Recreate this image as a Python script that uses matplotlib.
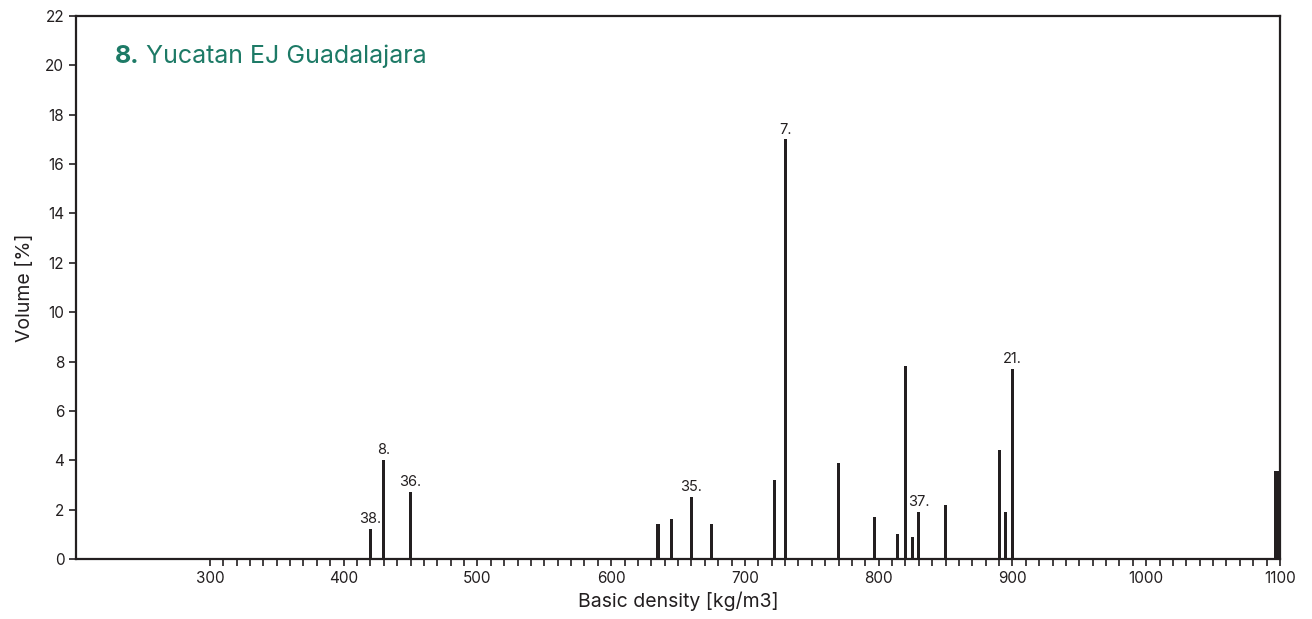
import matplotlib.pyplot as plt
from matplotlib.ticker import MultipleLocator, FixedLocator

plt.rcParams['font.family'] = ['Inter', 'DejaVu Sans']

# basic density class (kg/m3) and volume share (%)
density = [420, 430, 450, 635, 645, 660, 675, 722, 730, 770, 797, 814, 820, 825, 830, 850, 890, 895, 900]
volume = [1.2, 4.0, 2.7, 1.4, 1.6, 2.5, 1.4, 3.2, 17.0, 3.9, 1.7, 1.0, 7.8, 0.9, 1.9, 2.2, 4.4, 1.9, 7.7]
labels = {420: '38.', 430: '8.', 450: '36.', 660: '35.', 730: '7.', 830: '37.', 900: '21.'}

# last bin sits at the right edge
edge_density = 1100
edge_volume = 3.57

ink = '#231f20'
teal = '#1d7a66'

fig = plt.figure(figsize=(13.12, 6.19), dpi=100)
ax = fig.add_axes([0.058, 0.097, 0.9176, 0.877])

ax.bar(density, volume, width=2.3, color=ink)
ax.bar(edge_density, edge_volume, width=-4.5, align='edge', color=ink)

for x, h in zip(density, volume):
    if x in labels:
        ax.text(x, h + 0.12, labels[x], ha='center', va='bottom', fontsize=10.5, color=ink)

ax.set_xlim(200, 1100)
ax.set_ylim(0, 22)
ax.set_xticks(range(300, 1101, 100))
ax.xaxis.set_minor_locator(FixedLocator(list(range(300, 1101, 10))))
ax.yaxis.set_major_locator(MultipleLocator(2))

ax.tick_params(axis='both', which='major', direction='out', length=5, width=1.2,
               colors=ink, labelsize=11)
ax.tick_params(axis='x', which='minor', direction='out', length=5, width=1.2, colors=ink)
for s in ax.spines.values():
    s.set_linewidth(1.6)
    s.set_color(ink)

ax.set_xlabel('Basic density [kg/m3]', fontsize=14, color=ink, labelpad=4)
ax.set_ylabel('Volume [%]', fontsize=14, color=ink, labelpad=8)

t1 = ax.text(0.032, 0.926, '8.', transform=ax.transAxes, fontsize=18,
             fontweight='bold', color=teal, va='center')
ax.annotate(' Yucatan EJ Guadalajara', xy=(1, 0.5), xycoords=t1, va='center',
            fontsize=18, color=teal)

fig.savefig('out.png', dpi=100)
